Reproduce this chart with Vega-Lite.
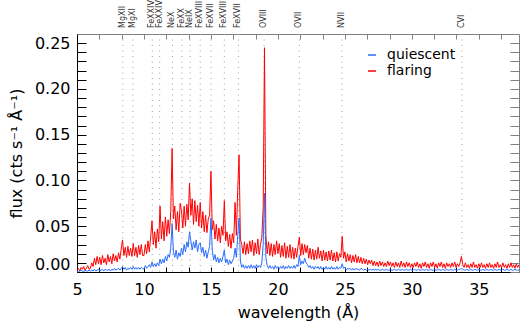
{
  "$schema": "https://vega.github.io/schema/vega-lite/v6.json",
  "width": 442,
  "height": 238,
  "autosize": "none",
  "padding": {"left": 77, "top": 34, "right": 2, "bottom": 52},
  "background": "white",
  "config": {
    "view": {"stroke": "#808080", "strokeWidth": 1},
    "axis": {"grid": false, "labelFont": "DejaVu Sans", "labelFontSize": 16, "labelColor": "black", "titleFont": "DejaVu Sans", "titleFontSize": 16, "titleFontWeight": "normal", "titleColor": "black", "labelOverlap": false, "tickWidth": 1, "domainWidth": 1}
  },
  "datasets": {
    "spectra": "w,flaring,quiescent\n5.0,0.002,0.001\n5.1,0.004,0.000\n5.2,0.001,0.001\n5.3,0.005,0.002\n5.4,0.003,0.001\n5.5,0.006,0.000\n5.6,0.002,0.002\n5.7,0.004,0.001\n5.8,0.007,0.001\n5.9,0.003,0.002\n6.0,0.004,0.001\n6.1,0.010,0.002\n6.2,0.006,0.001\n6.3,0.015,0.003\n6.4,0.008,0.001\n6.5,0.017,0.002\n6.6,0.009,0.003\n6.7,0.016,0.001\n6.8,0.008,0.002\n6.9,0.018,0.003\n7.0,0.010,0.001\n7.1,0.015,0.003\n7.2,0.008,0.002\n7.3,0.019,0.002\n7.4,0.011,0.003\n7.5,0.017,0.001\n7.6,0.009,0.003\n7.7,0.020,0.002\n7.8,0.012,0.004\n7.9,0.018,0.002\n8.0,0.011,0.003\n8.1,0.021,0.004\n8.2,0.014,0.002\n8.3,0.025,0.004\n8.4,0.035,0.006\n8.5,0.018,0.003\n8.6,0.027,0.005\n8.7,0.016,0.002\n8.8,0.028,0.004\n8.9,0.018,0.003\n9.0,0.026,0.005\n9.1,0.017,0.003\n9.2,0.031,0.006\n9.3,0.018,0.003\n9.4,0.027,0.005\n9.5,0.016,0.003\n9.6,0.029,0.005\n9.7,0.019,0.003\n9.8,0.030,0.005\n9.9,0.018,0.004\n10.0,0.018,0.003\n10.1,0.030,0.007\n10.2,0.020,0.004\n10.3,0.034,0.006\n10.4,0.022,0.008\n10.5,0.038,0.005\n10.6,0.056,0.011\n10.7,0.030,0.006\n10.8,0.044,0.009\n10.9,0.026,0.006\n11.0,0.047,0.010\n11.1,0.033,0.007\n11.2,0.072,0.014\n11.3,0.036,0.009\n11.4,0.055,0.014\n11.5,0.034,0.010\n11.6,0.060,0.017\n11.7,0.039,0.012\n11.8,0.057,0.019\n11.9,0.042,0.016\n12.0,0.066,0.026\n12.1,0.135,0.053\n12.2,0.058,0.022\n12.3,0.072,0.016\n12.4,0.046,0.024\n12.5,0.066,0.014\n12.6,0.044,0.021\n12.7,0.075,0.017\n12.8,0.067,0.026\n12.9,0.048,0.019\n13.0,0.072,0.030\n13.1,0.050,0.022\n13.2,0.074,0.033\n13.3,0.057,0.027\n13.4,0.097,0.044\n13.5,0.062,0.034\n13.6,0.080,0.024\n13.7,0.052,0.033\n13.8,0.078,0.026\n13.9,0.055,0.035\n14.0,0.073,0.022\n14.1,0.050,0.030\n14.2,0.076,0.032\n14.3,0.048,0.021\n14.4,0.066,0.027\n14.5,0.044,0.017\n14.6,0.062,0.024\n14.7,0.043,0.015\n14.8,0.058,0.022\n14.9,0.062,0.028\n15.0,0.110,0.059\n15.1,0.046,0.024\n15.2,0.056,0.013\n15.3,0.036,0.019\n15.4,0.052,0.011\n15.5,0.034,0.016\n15.6,0.048,0.010\n15.7,0.032,0.015\n15.8,0.050,0.011\n15.9,0.040,0.017\n16.0,0.078,0.024\n16.1,0.034,0.010\n16.2,0.044,0.014\n16.3,0.028,0.008\n16.4,0.041,0.013\n16.5,0.026,0.009\n16.6,0.042,0.012\n16.7,0.032,0.015\n16.8,0.076,0.026\n16.9,0.040,0.016\n17.0,0.090,0.040\n17.1,0.128,0.059\n17.2,0.036,0.012\n17.3,0.030,0.005\n17.4,0.020,0.008\n17.5,0.033,0.004\n17.6,0.019,0.007\n17.7,0.031,0.004\n17.8,0.020,0.007\n17.9,0.034,0.004\n18.0,0.022,0.008\n18.1,0.035,0.004\n18.2,0.018,0.007\n18.3,0.032,0.004\n18.4,0.020,0.008\n18.5,0.036,0.005\n18.6,0.019,0.007\n18.7,0.030,0.005\n18.8,0.038,0.010\n18.9,0.070,0.030\n19.0,0.245,0.086\n19.1,0.040,0.016\n19.2,0.020,0.007\n19.3,0.033,0.004\n19.4,0.018,0.007\n19.5,0.031,0.004\n19.6,0.017,0.006\n19.7,0.030,0.003\n19.8,0.019,0.007\n19.9,0.034,0.004\n20.0,0.020,0.006\n20.1,0.031,0.003\n20.2,0.016,0.006\n20.3,0.029,0.004\n20.4,0.017,0.007\n20.5,0.032,0.003\n20.6,0.015,0.006\n20.7,0.028,0.004\n20.8,0.016,0.007\n20.9,0.030,0.004\n21.0,0.015,0.006\n21.1,0.027,0.004\n21.2,0.014,0.007\n21.3,0.026,0.004\n21.4,0.016,0.008\n21.5,0.028,0.006\n21.6,0.038,0.018\n21.7,0.018,0.008\n21.8,0.031,0.012\n21.9,0.019,0.009\n22.0,0.030,0.015\n22.1,0.021,0.010\n22.2,0.029,0.008\n22.3,0.015,0.005\n22.4,0.026,0.007\n22.5,0.014,0.004\n22.6,0.025,0.006\n22.7,0.013,0.003\n22.8,0.024,0.006\n22.9,0.014,0.004\n23.0,0.027,0.006\n23.1,0.015,0.003\n23.2,0.023,0.006\n23.3,0.012,0.003\n23.4,0.024,0.005\n23.5,0.013,0.003\n23.6,0.022,0.006\n23.7,0.012,0.003\n23.8,0.023,0.005\n23.9,0.013,0.003\n24.0,0.024,0.006\n24.1,0.012,0.003\n24.2,0.021,0.005\n24.3,0.011,0.003\n24.4,0.022,0.006\n24.5,0.012,0.003\n24.6,0.020,0.005\n24.7,0.016,0.004\n24.8,0.039,0.009\n24.9,0.015,0.004\n25.0,0.022,0.005\n25.1,0.011,0.002\n25.2,0.020,0.004\n25.3,0.012,0.003\n25.4,0.019,0.004\n25.5,0.010,0.002\n25.6,0.018,0.004\n25.7,0.011,0.002\n25.8,0.019,0.004\n25.9,0.010,0.003\n26.0,0.017,0.003\n26.1,0.010,0.002\n26.2,0.016,0.004\n26.3,0.009,0.003\n26.4,0.015,0.002\n26.5,0.009,0.003\n26.6,0.014,0.002\n26.7,0.008,0.003\n26.8,0.013,0.002\n26.9,0.009,0.003\n27.0,0.013,0.002\n27.1,0.007,0.003\n27.2,0.012,0.002\n27.3,0.007,0.003\n27.4,0.011,0.002\n27.5,0.006,0.003\n27.6,0.012,0.002\n27.7,0.007,0.002\n27.8,0.011,0.003\n27.9,0.006,0.002\n28.0,0.010,0.002\n28.1,0.006,0.003\n28.2,0.012,0.002\n28.3,0.007,0.002\n28.4,0.011,0.003\n28.5,0.006,0.002\n28.6,0.010,0.002\n28.7,0.005,0.003\n28.8,0.011,0.002\n28.9,0.006,0.002\n29.0,0.010,0.003\n29.1,0.005,0.002\n29.2,0.012,0.002\n29.3,0.006,0.003\n29.4,0.010,0.002\n29.5,0.005,0.002\n29.6,0.011,0.003\n29.7,0.006,0.002\n29.8,0.010,0.002\n29.9,0.005,0.003\n30.0,0.009,0.002\n30.1,0.005,0.002\n30.2,0.010,0.003\n30.3,0.006,0.002\n30.4,0.011,0.002\n30.5,0.005,0.003\n30.6,0.009,0.002\n30.7,0.004,0.002\n30.8,0.010,0.003\n30.9,0.006,0.002\n31.0,0.011,0.002\n31.1,0.005,0.003\n31.2,0.009,0.002\n31.3,0.004,0.002\n31.4,0.010,0.003\n31.5,0.006,0.002\n31.6,0.011,0.002\n31.7,0.005,0.003\n31.8,0.009,0.002\n31.9,0.004,0.002\n32.0,0.010,0.003\n32.1,0.006,0.002\n32.2,0.011,0.002\n32.3,0.005,0.003\n32.4,0.009,0.002\n32.5,0.004,0.002\n32.6,0.010,0.003\n32.7,0.006,0.002\n32.8,0.009,0.002\n32.9,0.005,0.003\n33.0,0.010,0.002\n33.1,0.006,0.002\n33.2,0.011,0.003\n33.3,0.005,0.002\n33.4,0.009,0.002\n33.5,0.006,0.003\n33.6,0.010,0.003\n33.7,0.017,0.004\n33.8,0.008,0.003\n33.9,0.005,0.002\n34.0,0.010,0.002\n34.1,0.005,0.003\n34.2,0.008,0.002\n34.3,0.004,0.002\n34.4,0.009,0.003\n34.5,0.005,0.002\n34.6,0.011,0.002\n34.7,0.005,0.003\n34.8,0.008,0.002\n34.9,0.004,0.002\n35.0,0.009,0.003\n35.1,0.005,0.002\n35.2,0.010,0.002\n35.3,0.005,0.003\n35.4,0.008,0.002\n35.5,0.004,0.002\n35.6,0.009,0.003\n35.7,0.005,0.002\n35.8,0.010,0.002\n35.9,0.005,0.003\n36.0,0.008,0.002\n36.1,0.004,0.002\n36.2,0.009,0.003\n36.3,0.005,0.002\n36.4,0.011,0.002\n36.5,0.005,0.003\n36.6,0.008,0.002\n36.7,0.005,0.002\n36.8,0.010,0.003\n36.9,0.005,0.002\n37.0,0.008,0.002\n37.1,0.004,0.003\n37.2,0.009,0.002\n37.3,0.005,0.002\n37.4,0.010,0.003\n37.5,0.005,0.002\n37.6,0.008,0.002\n37.7,0.004,0.003\n37.8,0.009,0.002\n37.9,0.005,0.002\n38.0,0.008,0.002",
    "lines": [
      {"w": 8.42, "ion": "MgXII"}, {"w": 9.17, "ion": "MgXI"}, {"w": 10.62, "ion": "FeXXIV"}, {"w": 11.17, "ion": "FeXXIV"},
      {"w": 12.13, "ion": "NeX"}, {"w": 12.83, "ion": "FeXX"}, {"w": 13.45, "ion": "NeIX"}, {"w": 14.2, "ion": "FeXVIII"},
      {"w": 15.01, "ion": "FeXVII"}, {"w": 16.0, "ion": "FeXVIII"}, {"w": 17.05, "ion": "FeXVII"}, {"w": 18.97, "ion": "OVIII"},
      {"w": 21.6, "ion": "OVII"}, {"w": 24.78, "ion": "NVII"}, {"w": 33.74, "ion": "CVI"}
    ]
  },
  "resolve": {"axis": {"x": "independent", "y": "independent"}},
  "layer": [
    {
      "data": {"name": "lines"},
      "mark": {"type": "rule", "color": "#a0a0a0", "strokeDash": [1, 4.5], "strokeWidth": 1},
      "encoding": {
        "x": {"field": "w", "type": "quantitative", "scale": {"domain": [5, 38], "nice": false, "zero": false},
          "axis": {"orient": "top", "offset": -5, "title": null, "labels": false, "domain": false, "tickColor": "#808080", "tickSize": 5,
            "values": [5, 6.66667, 8.33333, 10, 11.66667, 13.33333, 15, 16.66667, 18.33333, 20, 21.66667, 23.33333, 25, 26.66667, 28.33333, 30, 31.66667, 33.33333, 35, 36.66667],
            "encode": {"ticks": {"update": {"y": {"signal": "abs(datum.value - 5*round(datum.value/5)) < 0.01 ? 0 : -2.5"}}}}}}
      }
    },
    {
      "data": {"name": "lines"},
      "mark": {"type": "text", "angle": 270, "align": "left", "baseline": "middle", "dx": 6, "font": "DejaVu Sans", "fontSize": 8, "color": "#333333"},
      "encoding": {
        "x": {"field": "w", "type": "quantitative",
          "axis": {"orient": "bottom", "offset": 0, "title": null, "labels": false, "ticks": false, "domain": true, "domainColor": "black"}},
        "y": {"datum": 0.26, "type": "quantitative",
          "axis": {"orient": "right", "offset": -9, "title": null, "labels": false, "domain": false, "tickColor": "#808080", "tickSize": 9,
            "values": [0, 0.01, 0.02, 0.03, 0.04, 0.05, 0.06, 0.07, 0.08, 0.09, 0.1, 0.11, 0.12, 0.13, 0.14, 0.15, 0.16, 0.17, 0.18, 0.19, 0.2, 0.21, 0.22, 0.23, 0.24, 0.25],
            "encode": {"ticks": {"update": {"x": {"signal": "abs(datum.value*20 - round(datum.value*20)) < 0.001 ? 0 : 4.5"}}}}}},
        "text": {"field": "ion"}
      }
    },
    {
      "data": {"name": "spectra", "format": {"type": "csv", "parse": {"w": "number", "flaring": "number", "quiescent": "number"}}},
      "transform": [{"fold": ["flaring", "quiescent"], "as": ["series", "flux"]}, {"filter": "datum.series === 'flaring'"}],
      "mark": {"type": "line", "strokeWidth": 1, "clip": true},
      "encoding": {
        "x": {"field": "w", "type": "quantitative",
          "axis": {"orient": "bottom", "offset": -5, "title": "wavelength (Å)", "labelFlush": false, "domain": false, "tickColor": "black", "tickSize": 5, "labelPadding": 9, "titlePadding": 7,
            "values": [5, 6.66667, 8.33333, 10, 11.66667, 13.33333, 15, 16.66667, 18.33333, 20, 21.66667, 23.33333, 25, 26.66667, 28.33333, 30, 31.66667, 33.33333, 35, 36.66667],
            "labelExpr": "abs(datum.value - 5*round(datum.value/5)) < 0.01 ? format(datum.value, 'd') : ''",
            "encode": {"ticks": {"update": {"y": {"signal": "abs(datum.value - 5*round(datum.value/5)) < 0.01 ? 0 : 2.5"}}}}}},
        "y": {"field": "flux", "type": "quantitative", "scale": {"domain": [0, 0.26], "nice": false, "zero": false},
          "axis": {"orient": "left", "offset": -9, "title": "flux (cts s⁻¹ Å⁻¹)", "labelFlush": true, "domain": false, "tickColor": "black", "tickSize": 9, "labelPadding": 7, "titlePadding": 10,
            "values": [0, 0.01, 0.02, 0.03, 0.04, 0.05, 0.06, 0.07, 0.08, 0.09, 0.1, 0.11, 0.12, 0.13, 0.14, 0.15, 0.16, 0.17, 0.18, 0.19, 0.2, 0.21, 0.22, 0.23, 0.24, 0.25],
            "labelExpr": "abs(datum.value*20 - round(datum.value*20)) < 0.001 ? format(datum.value, '.2f') : ''",
            "encode": {"ticks": {"update": {"x": {"signal": "abs(datum.value*20 - round(datum.value*20)) < 0.001 ? 0 : -4.5"}}}}}},
        "color": {"field": "series", "type": "nominal",
          "scale": {"domain": ["quiescent", "flaring"], "range": ["#2a6cff", "#ff0000"]},
          "legend": {"orient": "none", "legendX": 288, "legendY": 14, "title": null, "padding": 0, "symbolType": "stroke", "symbolSize": 64, "symbolStrokeWidth": 1.5, "labelFont": "DejaVu Sans", "labelFontSize": 14, "labelColor": "black", "labelOffset": 8, "rowPadding": 2}}
      }
    },
    {
      "data": {"name": "spectra", "format": {"type": "csv", "parse": {"w": "number", "flaring": "number", "quiescent": "number"}}},
      "transform": [{"fold": ["flaring", "quiescent"], "as": ["series", "flux"]}, {"filter": "datum.series === 'quiescent'"}],
      "mark": {"type": "line", "strokeWidth": 1, "clip": true},
      "encoding": {
        "x": {"field": "w", "type": "quantitative", "axis": null},
        "y": {"field": "flux", "type": "quantitative",
          "axis": {"orient": "left", "offset": 0, "title": null, "labels": false, "ticks": false, "domain": true, "domainColor": "black"}},
        "color": {"field": "series", "type": "nominal"}
      }
    }
  ]
}
